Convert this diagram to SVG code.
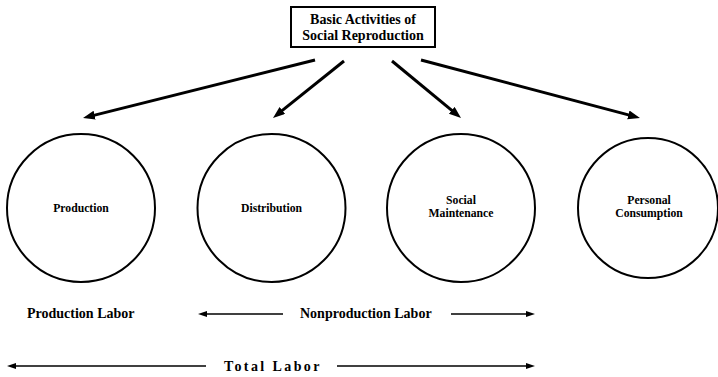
<svg xmlns="http://www.w3.org/2000/svg" width="718" height="377" viewBox="0 0 718 377">
<style>
text{font-family:'Liberation Serif','DejaVu Serif',serif;font-weight:700;fill:#000}
.t14{font-size:14px}
.t11{font-size:11.7px}
.circ{fill:none;stroke:#000;stroke-width:2}
.big{stroke:#000;stroke-width:3;fill:none}
.thin{stroke:#000;stroke-width:1.6;fill:none}
</style>
<defs>
<marker id="ah" markerUnits="userSpaceOnUse" markerWidth="13" markerHeight="10" refX="2" refY="4.5" orient="auto">
<path d="M0,0 L12,4.5 L0,9 z" fill="#000"/>
</marker>
<marker id="sh" markerUnits="userSpaceOnUse" markerWidth="10" markerHeight="7" refX="3" refY="3" orient="auto">
<path d="M0,0 L9,3 L0,6 z" fill="#000"/>
</marker>
</defs>
<rect width="718" height="377" fill="#fff"/>
<g id="root">
<rect x="291" y="7" width="144" height="40" fill="#fff" stroke="#000" stroke-width="2"/>
<text class="t14" x="363" y="24" text-anchor="middle">Basic Activities of</text>
<text class="t14" x="363" y="40" text-anchor="middle">Social Reproduction</text>
</g>
<g id="production">
<circle class="circ" cx="81" cy="208" r="74"/>
<text class="t11" x="81" y="212" text-anchor="middle">Production</text>
</g>
<g id="distribution">
<circle class="circ" cx="271.5" cy="208" r="74"/>
<text class="t11" x="271.5" y="212" text-anchor="middle">Distribution</text>
</g>
<g id="maintenance">
<circle class="circ" cx="461" cy="208" r="74"/>
<text class="t11" x="461" y="204" text-anchor="middle">Social</text>
<text class="t11" x="461" y="217" text-anchor="middle">Maintenance</text>
</g>
<g id="consumption">
<circle class="circ" cx="648" cy="208" r="70"/>
<text class="t11" x="649" y="204" text-anchor="middle">Personal</text>
<text class="t11" x="649" y="217" text-anchor="middle">Consumption</text>
</g>
<g id="connectors">
<line class="big" x1="315" y1="60" x2="92.7" y2="115.6" marker-end="url(#ah)"/>
<line class="big" x1="344" y1="61" x2="280.8" y2="111.7" marker-end="url(#ah)"/>
<line class="big" x1="392" y1="61" x2="453.3" y2="111.6" marker-end="url(#ah)"/>
<line class="big" x1="421" y1="60" x2="630.3" y2="115.4" marker-end="url(#ah)"/>
</g>
<g id="labels">
<text class="t14" x="27" y="318">Production Labor</text>
<line class="thin" x1="283" y1="314" x2="204" y2="314" marker-end="url(#sh)"/>
<text class="t14" x="300" y="318">Nonproduction Labor</text>
<line class="thin" x1="451" y1="314" x2="529" y2="314" marker-end="url(#sh)"/>
<line class="thin" x1="206" y1="366" x2="13" y2="366" marker-end="url(#sh)"/>
<text class="t14" x="224" y="371" letter-spacing="2.4">Total Labor</text>
<line class="thin" x1="337" y1="366" x2="529" y2="366" marker-end="url(#sh)"/>
</g>
</svg>
